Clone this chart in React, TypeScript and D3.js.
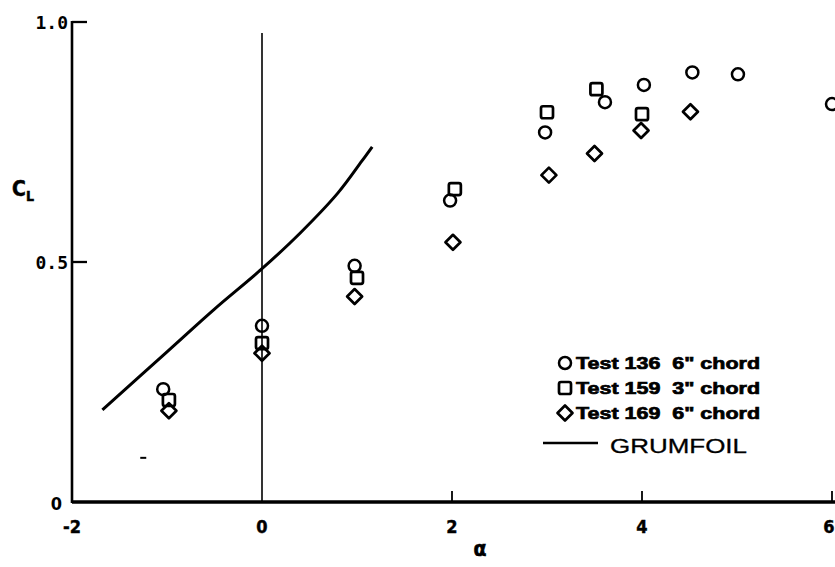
import React from 'react';
import * as d3 from 'd3';

// Test 136, 6" chord (circles)
const test136Alpha = [-1.04, 0, 0.975, 1.98, 2.98, 3.61, 4.02, 4.53, 5.01, 6.0];
const test136CL = [0.235, 0.367, 0.492, 0.628, 0.77, 0.833, 0.869, 0.895, 0.891, 0.829];
// Test 159, 3" chord (squares)
const test159Alpha = [-0.98, 0, 1.0, 2.03, 3.0, 3.52, 4.0];
const test159CL = [0.2125, 0.331, 0.467, 0.652, 0.812, 0.86, 0.808];
// Test 169, 6" chord (diamonds)
const test169Alpha = [-0.98, 0, 0.975, 2.01, 3.02, 3.5, 3.99, 4.51];
const test169CL = [0.19, 0.31, 0.428, 0.541, 0.681, 0.726, 0.774, 0.813];
// GRUMFOIL prediction
const grumAlpha = [-1.68, -1.0, -0.5, 0, 0.4, 0.8, 1.05, 1.16];
const grumCL = [0.192, 0.313, 0.402, 0.486, 0.56, 0.644, 0.71, 0.74];

const xTicks = [-2, 0, 2, 4, 6];
const xTickLabels = ['-2', '0', '2', '4', '6'];
const yTicks = [0.5, 1.0];
const yTickLabels = ['0.5', '1.0'];
const legendLabels = ['Test 136  6" chord', 'Test 159  3" chord', 'Test 169  6" chord', 'GRUMFOIL'];
const strayMark = { a: -1.25, cl: 0.092 };

const W = 835;
const H = 567;

function Marker({ kind, cx, cy }: { kind: string; cx: number; cy: number }) {
  if (kind === 'circle') return <circle cx={cx} cy={cy} r={6} fill="none" stroke="#000" strokeWidth={2.5} />;
  if (kind === 'square')
    return <rect x={cx - 6} y={cy - 6} width={12} height={12} rx={2} fill="none" stroke="#000" strokeWidth={2.7} />;
  const s = 7.5;
  return (
    <path
      d={`M${cx},${cy - s}L${cx + s},${cy}L${cx},${cy + s}L${cx - s},${cy}Z`}
      fill="none"
      stroke="#000"
      strokeWidth={2.7}
      strokeLinejoin="round"
    />
  );
}

export default function App() {
  const x = d3.scaleLinear().domain([-2, 6]).range([72, 832]);
  const y = d3.scaleLinear().domain([0, 1]).range([502, 22]);

  const series = [
    { kind: 'circle', a: test136Alpha, c: test136CL },
    { kind: 'square', a: test159Alpha, c: test159CL },
    { kind: 'diamond', a: test169Alpha, c: test169CL },
  ];

  const line = d3
    .line<number>()
    .x((d) => x(grumAlpha[d]))
    .y((d) => y(grumCL[d]))
    .curve(d3.curveCatmullRom.alpha(0.5));
  const grumPath = line(grumAlpha.map((_, i) => i)) || '';

  const tickFont = "'DejaVu Sans Condensed', 'Liberation Sans Narrow', sans-serif";
  const monoFont = "'DejaVu Sans Mono', 'Liberation Mono', monospace";
  const legendFont = "'Liberation Sans', Arial, sans-serif";
  const legY = [363, 388, 413, 446];
  const legKinds = ['circle', 'square', 'diamond'];

  return (
    <svg width={W} height={H} style={{ position: 'absolute', left: 0, top: 0, background: '#fff' }}>
      <rect x={0} y={0} width={W} height={H} fill="#fff" />
      {/* y axis */}
      <line x1={x(-2)} x2={x(-2)} y1={y(1) - 1} y2={y(0) + 1} stroke="#000" strokeWidth={2.6} />
      {yTicks.map((t) => (
        <line key={t} x1={x(-2)} x2={x(-2) + 15} y1={y(t)} y2={y(t)} stroke="#000" strokeWidth={2.3} />
      ))}
      {/* zero alpha reference line */}
      <line x1={x(0)} x2={x(0)} y1={y(0.977)} y2={y(0)} stroke="#000" strokeWidth={1.6} />
      {/* x axis */}
      <line x1={x(-2)} x2={x(6) + 3} y1={y(0)} y2={y(0)} stroke="#000" strokeWidth={3.4} />
      {xTicks.slice(2).map((t) => (
        <line key={t} x1={x(t)} x2={x(t)} y1={y(0)} y2={y(0) - 11} stroke="#000" strokeWidth={1.8} />
      ))}
      {/* tick labels */}
      {xTicks.map((t, i) => (
        <text
          key={t}
          x={t === 6 ? x(t) - 3 : x(t)}
          y={y(0) + 31}
          textAnchor="middle"
          fontFamily={tickFont}
          fontWeight="bold"
          fontSize={18}
          stroke="#000"
          strokeWidth={0.4}
        >
          {xTickLabels[i]}
        </text>
      ))}
      <text x={62} y={y(0) + 8} textAnchor="end" fontFamily={tickFont} fontWeight="bold" fontSize={18}>
        0
      </text>
      {yTicks.map((t, i) => (
        <text
          key={t}
          x={x(-2) - 4}
          y={y(t) + 7}
          textAnchor="end"
          fontFamily={monoFont}
          fontWeight="bold"
          fontSize={18}
        >
          {yTickLabels[i]}
        </text>
      ))}
      {/* axis titles */}
      <text x={12} y={196} fontFamily={tickFont} fontWeight="bold" fontSize={21} stroke="#000" strokeWidth={0.5}>
        C<tspan fontSize={14} dy={5}>L</tspan>
      </text>
      <text
        x={480}
        y={556}
        textAnchor="middle"
        fontFamily={tickFont}
        fontWeight="bold"
        fontSize={21}
        stroke="#000"
        strokeWidth={0.6}
      >
        α
      </text>
      {/* GRUMFOIL curve */}
      <path d={grumPath} fill="none" stroke="#000" strokeWidth={3} />
      {/* data markers */}
      {series.map((s) =>
        s.a.map((a, i) => <Marker key={s.kind + i} kind={s.kind} cx={x(a)} cy={y(s.c[i])} />)
      )}
      {/* stray mark */}
      <line
        x1={x(strayMark.a) - 3}
        x2={x(strayMark.a) + 3}
        y1={y(strayMark.cl)}
        y2={y(strayMark.cl)}
        stroke="#000"
        strokeWidth={2}
      />
      {/* legend */}
      {legKinds.map((k, i) => (
        <g key={k}>
          <Marker kind={k} cx={565} cy={legY[i]} />
          <text
            x={576}
            y={legY[i] + 6}
            fontFamily={legendFont}
            fontWeight="bold"
            fontSize={17}
            textLength={184}
            lengthAdjust="spacingAndGlyphs"
            stroke="#000"
            strokeWidth={0.7}
            style={{ whiteSpace: 'pre' }}
          >
            {legendLabels[i]}
          </text>
        </g>
      ))}
      <line x1={543} x2={598} y1={legY[3] - 3} y2={legY[3] - 3} stroke="#000" strokeWidth={2.5} />
      <text
        x={610}
        y={legY[3] + 7}
        fontFamily={legendFont}
        fontSize={20}
        textLength={137}
        lengthAdjust="spacingAndGlyphs"
        stroke="#000"
        strokeWidth={0.3}
      >
        {legendLabels[3]}
      </text>
    </svg>
  );
}
